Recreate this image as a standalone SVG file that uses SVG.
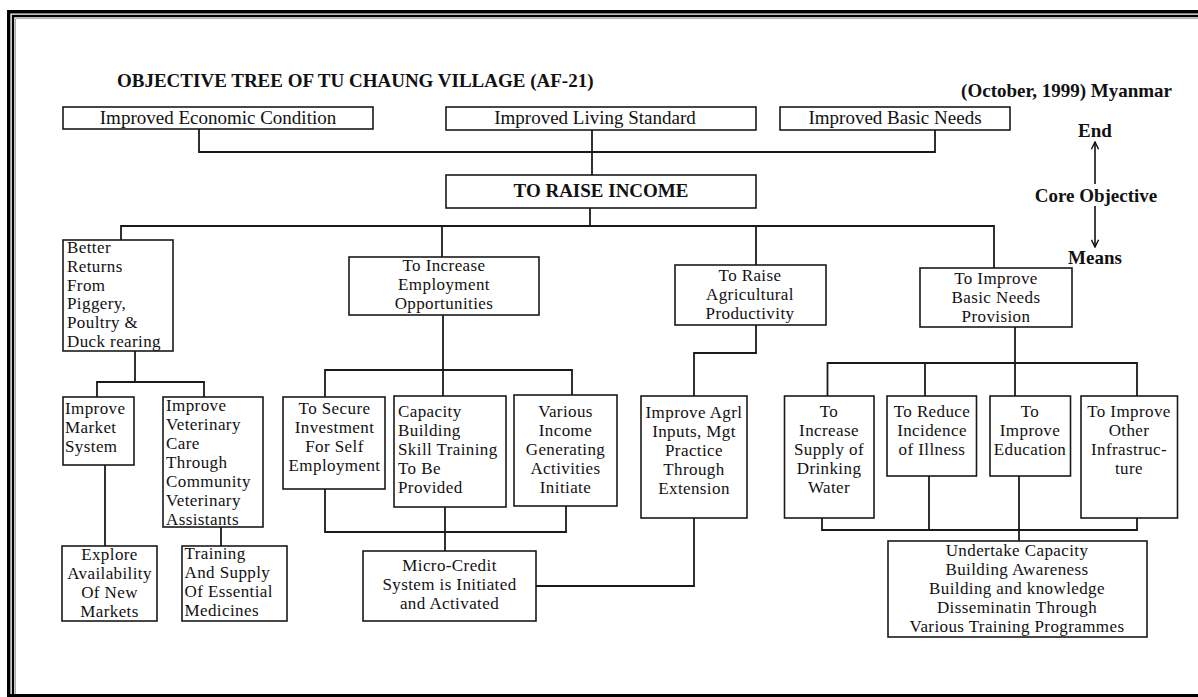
<svg xmlns="http://www.w3.org/2000/svg" width="1198" height="697" viewBox="0 0 1198 697">
<style>
.box{fill:#fff;stroke:#1a1a1a;stroke-width:1.6}
.t{font-family:"Liberation Serif","Times New Roman",serif;font-size:19px;fill:#111}
.s{font-size:17px;letter-spacing:0.4px}
.c{text-anchor:middle}
.e{text-anchor:end}
.b{font-weight:bold}
.conn{fill:none;stroke:#1a1a1a;stroke-width:1.8}
.frame{fill:none;stroke:#000}
</style>
<defs>
<marker id="arr" viewBox="0 0 10 10" refX="9" refY="5" markerWidth="9" markerHeight="9" markerUnits="userSpaceOnUse" orient="auto">
<path d="M1,1 L9,5 L1,9" fill="none" stroke="#111" stroke-width="1.6"/>
</marker>
</defs>
<rect width="1198" height="697" fill="#fff"/>
<g id="frame">
<path class="frame" d="M8.7,697 V11.7 H1198" stroke-width="3.4"/>
<path class="frame" d="M13,697 V16 H1198" stroke-width="2.4"/>
<path d="M15.5,697 V18.6 H1198" fill="none" stroke="#aaa" stroke-width="1"/>
<line x1="8" y1="695.5" x2="1198" y2="695.5" stroke="#000" stroke-width="3"/>
</g>
<g id="title">
<text class="t b" x="117" y="87">OBJECTIVE TREE OF TU CHAUNG VILLAGE (AF-21)</text>
<text class="t b e" x="1172" y="97">(October, 1999) Myanmar</text>
</g>
<g id="legend">
<text class="t b c" x="1095" y="137">End</text>
<text class="t b c" x="1096" y="202">Core Objective</text>
<text class="t b c" x="1095" y="264">Means</text>
<line x1="1095" y1="184" x2="1095" y2="142" stroke="#111" stroke-width="1.6" marker-end="url(#arr)"/>
<line x1="1095" y1="206" x2="1095" y2="247" stroke="#111" stroke-width="1.6" marker-end="url(#arr)"/>
</g>
<g id="connectors">
<path class="conn" d="M199,129 V152 H935 V130"/>
<path class="conn" d="M592,130 V175"/>
<path class="conn" d="M590,208 V226"/>
<path class="conn" d="M121,240 V226 H994 V268"/>
<path class="conn" d="M442,226 V257"/>
<path class="conn" d="M756,226 V265"/>
<path class="conn" d="M135,351 V382"/>
<path class="conn" d="M97,397 V382 H204 V397"/>
<path class="conn" d="M105,465 V546"/>
<path class="conn" d="M221,527 V546"/>
<path class="conn" d="M443,315 V396"/>
<path class="conn" d="M325,397 V370 H572 V395"/>
<path class="conn" d="M325,489 V532 H566 V506"/>
<path class="conn" d="M445,507 V551"/>
<path class="conn" d="M536,586 H694 V518"/>
<path class="conn" d="M756,325 V353 H694 V396"/>
<path class="conn" d="M1015,327 V396"/>
<path class="conn" d="M827.5,396 V363 H1137 V396"/>
<path class="conn" d="M925,363 V396"/>
<path class="conn" d="M822,518 V530 H1137 V518"/>
<path class="conn" d="M929,476 V530"/>
<path class="conn" d="M1019,476 V541"/>
</g>
<g id="n_econ"><rect class="box" x="63" y="107" width="310" height="22"/><text class="t c" x="218" y="124">Improved Economic Condition</text></g>
<g id="n_living"><rect class="box" x="446" y="107" width="310" height="23"/><text class="t c" x="595" y="124">Improved Living Standard</text></g>
<g id="n_basic"><rect class="box" x="780" y="107" width="230" height="23"/><text class="t c" x="895" y="124">Improved Basic Needs</text></g>
<g id="n_income"><rect class="box" x="446" y="175" width="310" height="33"/><text class="t b c" x="601" y="197">TO RAISE INCOME</text></g>
<g id="n_better"><rect class="box" x="63" y="240" width="110" height="111"/>
<text class="t s" x="67" y="253">Better<tspan x="67" y="271.8">Returns</tspan><tspan x="67" y="290.6">From</tspan><tspan x="67" y="309.4">Piggery,</tspan><tspan x="67" y="328.2">Poultry &amp;</tspan><tspan x="67" y="347">Duck rearing</tspan></text></g>
<g id="n_employ"><rect class="box" x="349" y="257" width="190" height="58"/>
<text class="t s c" x="444" y="271">To Increase<tspan x="444" y="290">Employment</tspan><tspan x="444" y="309">Opportunities</tspan></text></g>
<g id="n_agri"><rect class="box" x="675" y="265" width="151" height="60"/>
<text class="t s c" x="750" y="281">To Raise<tspan x="750" y="300">Agricultural</tspan><tspan x="750" y="319">Productivity</tspan></text></g>
<g id="n_bnp"><rect class="box" x="920" y="268" width="152" height="59"/>
<text class="t s c" x="996" y="284">To Improve<tspan x="996" y="303">Basic Needs</tspan><tspan x="996" y="322">Provision</tspan></text></g>
<g id="n_market"><rect class="box" x="63" y="397" width="71" height="68"/>
<text class="t s" x="65" y="414">Improve<tspan x="65" y="433">Market</tspan><tspan x="65" y="452">System</tspan></text></g>
<g id="n_vet"><rect class="box" x="163" y="397" width="100" height="130"/>
<text class="t s" x="166" y="411">Improve<tspan x="166" y="430">Veterinary</tspan><tspan x="166" y="449">Care</tspan><tspan x="166" y="468">Through</tspan><tspan x="166" y="487">Community</tspan><tspan x="166" y="506">Veterinary</tspan><tspan x="166" y="525">Assistants</tspan></text></g>
<g id="n_explore"><rect class="box" x="62" y="546" width="95" height="75"/>
<text class="t s c" x="109.5" y="560">Explore<tspan x="109.5" y="579">Availability</tspan><tspan x="109.5" y="598">Of New</tspan><tspan x="109.5" y="617">Markets</tspan></text></g>
<g id="n_training"><rect class="box" x="182" y="546" width="105" height="75"/>
<text class="t s" x="184.5" y="559">Training<tspan x="184.5" y="578">And Supply</tspan><tspan x="184.5" y="597">Of Essential</tspan><tspan x="184.5" y="616">Medicines</tspan></text></g>
<g id="n_secure"><rect class="box" x="283" y="397" width="102" height="92"/>
<text class="t s c" x="334.5" y="414">To Secure<tspan x="334.5" y="433">Investment</tspan><tspan x="334.5" y="452">For Self</tspan><tspan x="334.5" y="471">Employment</tspan></text></g>
<g id="n_capacity"><rect class="box" x="394" y="396" width="112" height="111"/>
<text class="t s" x="398" y="417">Capacity<tspan x="398" y="436">Building</tspan><tspan x="398" y="455">Skill Training</tspan><tspan x="398" y="474">To Be</tspan><tspan x="398" y="493">Provided</tspan></text></g>
<g id="n_various"><rect class="box" x="514" y="395" width="103" height="111"/>
<text class="t s c" x="565.5" y="416.5">Various<tspan x="565.5" y="435.5">Income</tspan><tspan x="565.5" y="454.5">Generating</tspan><tspan x="565.5" y="473.5">Activities</tspan><tspan x="565.5" y="492.5">Initiate</tspan></text></g>
<g id="n_micro"><rect class="box" x="363" y="551" width="173" height="70"/>
<text class="t s c" x="449.5" y="571">Micro-Credit<tspan x="449.5" y="590">System is Initiated</tspan><tspan x="449.5" y="609">and Activated</tspan></text></g>
<g id="n_agrl"><rect class="box" x="641" y="396" width="106" height="122"/>
<text class="t s c" x="694" y="418">Improve Agrl<tspan x="694" y="437">Inputs, Mgt</tspan><tspan x="694" y="456">Practice</tspan><tspan x="694" y="475">Through</tspan><tspan x="694" y="494">Extension</tspan></text></g>
<g id="n_water"><rect class="box" x="784.5" y="396" width="89.5" height="122"/>
<text class="t s c" x="829" y="417">To<tspan x="829" y="436">Increase</tspan><tspan x="829" y="455">Supply of</tspan><tspan x="829" y="474">Drinking</tspan><tspan x="829" y="493">Water</tspan></text></g>
<g id="n_illness"><rect class="box" x="887" y="396" width="89.5" height="80"/>
<text class="t s c" x="932" y="417">To Reduce<tspan x="932" y="436">Incidence</tspan><tspan x="932" y="455">of Illness</tspan></text></g>
<g id="n_edu"><rect class="box" x="990" y="396" width="80.5" height="80"/>
<text class="t s c" x="1030" y="417">To<tspan x="1030" y="436">Improve</tspan><tspan x="1030" y="455">Education</tspan></text></g>
<g id="n_infra"><rect class="box" x="1081" y="396" width="96.5" height="122"/>
<text class="t s c" x="1129" y="417">To Improve<tspan x="1129" y="436">Other</tspan><tspan x="1129" y="455">Infrastruc-</tspan><tspan x="1129" y="474">ture</tspan></text></g>
<g id="n_undertake"><rect class="box" x="888" y="541" width="259" height="96"/>
<text class="t s c" x="1017" y="555.5">Undertake Capacity<tspan x="1017" y="574.5">Building Awareness</tspan><tspan x="1017" y="593.5">Building and knowledge</tspan><tspan x="1017" y="612.5">Disseminatin Through</tspan><tspan x="1017" y="631.5">Various Training Programmes</tspan></text></g>
</svg>
